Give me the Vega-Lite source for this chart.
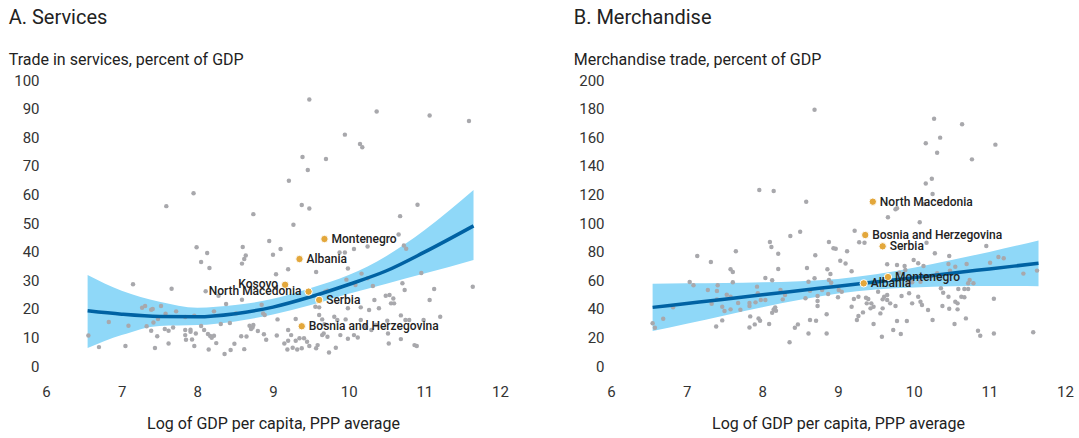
{
  "$schema": "https://vega.github.io/schema/vega-lite/v6.json",
  "background": "white",
  "padding": {"left": 8, "top": 8, "right": 0, "bottom": 3},
  "config": {
    "font": "Roboto",
    "view": {"stroke": null},
    "title": {"anchor": "start", "frame": "bounds", "fontSize": 20, "fontWeight": "normal", "color": "#222222", "subtitleFontSize": 16, "subtitleColor": "#222222", "subtitlePadding": 24, "offset": 5},
    "axis": {"grid": false, "domain": false, "ticks": false, "labelFontSize": 15, "labelColor": "#333333", "titleFontSize": 16, "titleFontWeight": "normal", "titleColor": "#222222", "labelFlush": false, "labelOverlap": false},
    "concat": {"spacing": 64}
  },
  "datasets": {
    "servicesPts": [
      {"x":7.95,"y":60.4},{"x":7.59,"y":55.9},{"x":8.74,"y":53.1},{"x":7.99,"y":41.5},{"x":8.13,"y":39.5},{"x":8.05,"y":36.4},{"x":8.16,"y":34.3},{"x":8.60,"y":41.6},{"x":8.64,"y":38.6},{"x":8.62,"y":37.4},{"x":8.59,"y":35.8},{"x":8.95,"y":43.7},{"x":9.0,"y":38.9},{"x":9.1,"y":40.9},{"x":9.04,"y":32.1},{"x":7.15,"y":28.6},{"x":7.66,"y":27.0},
      {"x":9.48,"y":93.2},{"x":10.37,"y":89.0},{"x":11.07,"y":87.6},{"x":11.59,"y":85.7},{"x":9.95,"y":80.9},{"x":10.15,"y":77.6},{"x":10.18,"y":76.5},{"x":9.39,"y":73.1},{"x":9.70,"y":72.4},{"x":9.46,"y":68.5},{"x":9.21,"y":64.8},{"x":9.38,"y":56.3},{"x":9.48,"y":55.1},{"x":10.91,"y":56.4},{"x":10.68,"y":52.4},{"x":9.27,"y":49.4},{"x":10.66,"y":46.0},{"x":10.73,"y":42.1},{"x":10.76,"y":41.0},{"x":9.88,"y":39.7},{"x":9.95,"y":39.7},{"x":10.07,"y":40.9},{"x":10.25,"y":41.8},{"x":9.57,"y":32.9},{"x":9.99,"y":34.1},{"x":9.20,"y":33.8},{"x":10.96,"y":32.5},{"x":10.17,"y":32.3},{"x":10.25,"y":30.7},{"x":9.97,"y":30.2},{"x":10.71,"y":28.9},{"x":10.09,"y":28.3},{"x":11.64,"y":27.7},{"x":10.32,"y":28.0},
      {"x":6.56,"y":10.7},{"x":6.70,"y":6.6},{"x":6.83,"y":15.4},{"x":7.05,"y":7.0},{"x":7.09,"y":14.1},{"x":7.27,"y":20.4},{"x":7.31,"y":21.0},{"x":7.33,"y":13.9},{"x":7.39,"y":19.7},{"x":7.41,"y":19.9},{"x":7.39,"y":12.3},{"x":7.42,"y":15.2},{"x":7.48,"y":16.4},{"x":7.52,"y":21.0},{"x":7.44,"y":6.3},{"x":7.47,"y":10.4},{"x":7.58,"y":18.3},{"x":7.57,"y":12.9},{"x":7.62,"y":12.3},{"x":7.62,"y":7.9},{"x":7.68,"y":13.5},{"x":7.72,"y":19.1},{"x":7.84,"y":17.1},{"x":7.84,"y":12.6},{"x":7.84,"y":10.8},{"x":7.85,"y":9.2},{"x":7.91,"y":12.7},{"x":7.91,"y":12.0},{"x":7.93,"y":9.3},{"x":7.96,"y":17.6},{"x":7.98,"y":11.4},{"x":7.96,"y":7.0},{"x":8.05,"y":14.0},{"x":8.09,"y":12.6},{"x":8.11,"y":26.1},{"x":8.14,"y":11.2},{"x":8.17,"y":10.5},{"x":8.19,"y":9.9},{"x":8.22,"y":10.6},{"x":8.15,"y":5.8},{"x":8.22,"y":19.1},{"x":8.25,"y":8.0},{"x":8.28,"y":24.6},{"x":8.31,"y":14.7},{"x":8.36,"y":4.2},{"x":8.38,"y":21.7},{"x":8.43,"y":15.0},{"x":8.44,"y":5.6},{"x":8.49,"y":7.8},{"x":8.51,"y":18.4},{"x":8.58,"y":10.4},{"x":8.59,"y":23.2},{"x":8.62,"y":5.9},{"x":8.65,"y":10.3},{"x":8.69,"y":14.1},{"x":8.71,"y":12.9},{"x":8.73,"y":13.5},{"x":8.74,"y":14.3},{"x":8.80,"y":12.2},{"x":8.85,"y":21.4},{"x":8.87,"y":18.4},{"x":8.89,"y":17.8},{"x":8.88,"y":11.1},{"x":8.91,"y":9.2},{"x":9.06,"y":16.3},{"x":9.05,"y":10.7},
      {"x":9.69,"y":26.0},{"x":9.72,"y":26.3},{"x":9.56,"y":20.7},{"x":9.61,"y":20.5},{"x":9.30,"y":16.4},{"x":9.61,"y":17.8},{"x":9.65,"y":16.3},{"x":9.68,"y":14.6},{"x":9.67,"y":11.4},{"x":9.81,"y":17.2},{"x":9.85,"y":16.1},{"x":9.96,"y":16.3},{"x":9.99,"y":20.2},{"x":10.16,"y":20.5},{"x":10.27,"y":19.6},{"x":10.34,"y":23.1},{"x":10.40,"y":20.2},{"x":9.20,"y":12.6},{"x":9.24,"y":10.8},{"x":9.35,"y":9.7},{"x":9.30,"y":8.8},{"x":9.20,"y":8.8},{"x":9.15,"y":7.9},{"x":9.19,"y":5.8},{"x":9.26,"y":6.4},{"x":9.32,"y":5.8},{"x":9.38,"y":6.2},{"x":9.41,"y":9.7},{"x":9.45,"y":8.5},{"x":9.48,"y":7.0},{"x":9.57,"y":6.2},{"x":9.59,"y":7.3},{"x":9.65,"y":10.8},{"x":9.72,"y":10.2},{"x":9.74,"y":4.7},{"x":9.83,"y":6.4},{"x":9.89,"y":10.8},{"x":9.99,"y":9.5},{"x":10.07,"y":10.8},{"x":10.12,"y":10.0},{"x":10.16,"y":16.1},{"x":10.23,"y":13.7},{"x":10.36,"y":14.3},{"x":10.30,"y":12.6},
      {"x":10.49,"y":24.6},{"x":10.54,"y":24.8},{"x":10.59,"y":23.6},{"x":10.56,"y":21.9},{"x":10.60,"y":21.9},{"x":10.74,"y":26.6},{"x":11.07,"y":23.1},{"x":11.13,"y":26.9},{"x":11.21,"y":17.2},{"x":10.69,"y":17.7},{"x":10.75,"y":16.1},{"x":10.80,"y":16.1},{"x":10.99,"y":16.1},{"x":10.53,"y":7.9},{"x":10.69,"y":9.4},{"x":10.87,"y":7.3},{"x":10.90,"y":7.0},{"x":10.51,"y":15.8},{"x":10.52,"y":11.4}
    ],
    "servicesCountries": [
      {"country":"Montenegro","x":9.68,"y":44.4},
      {"country":"Albania","x":9.35,"y":37.4},
      {"country":"Kosovo","x":9.16,"y":28.4},
      {"country":"North Macedonia","x":9.47,"y":26.0},
      {"country":"Serbia","x":9.61,"y":23.1},
      {"country":"Bosnia and Herzegovina","x":9.38,"y":13.9}
    ],
    "servicesFit": [
      {"x":6.55,"fit":19.3,"lo":6.3,"hi":31.8},
      {"x":7.0,"fit":18.1,"lo":10.8,"hi":26.3},
      {"x":7.5,"fit":17.3,"lo":14.0,"hi":22.5},
      {"x":8.0,"fit":17.2,"lo":14.3,"hi":20.4},
      {"x":8.5,"fit":18.3,"lo":15.6,"hi":21.3},
      {"x":9.0,"fit":20.6,"lo":18.0,"hi":23.5},
      {"x":9.5,"fit":24.2,"lo":21.3,"hi":27.3},
      {"x":10.0,"fit":28.5,"lo":25.3,"hi":31.8},
      {"x":10.5,"fit":33.3,"lo":28.8,"hi":38.5},
      {"x":11.0,"fit":39.8,"lo":32.3,"hi":47.5},
      {"x":11.65,"fit":49.0,"lo":37.1,"hi":61.5}
    ],
    "merchPts": [
      {"x":8.69,"y":179.2},{"x":7.96,"y":123.1},{"x":8.15,"y":122.4},{"x":8.58,"y":114.9},{"x":8.37,"y":90.9},{"x":8.50,"y":93.9},{"x":8.10,"y":86.7},{"x":8.12,"y":83.2},{"x":8.21,"y":78.5},{"x":8.70,"y":77.4},{"x":8.88,"y":86.7},{"x":7.14,"y":76.9},{"x":7.32,"y":72.7},{"x":7.65,"y":80.2},{"x":7.58,"y":67.6},{"x":7.61,"y":65.7},{"x":8.21,"y":67.8},{"x":8.59,"y":68.5},{"x":8.86,"y":67.6},{"x":7.04,"y":58.7},{"x":7.09,"y":56.4},{"x":7.41,"y":56.4},{"x":7.61,"y":58.5},{"x":7.93,"y":55.5},{"x":8.04,"y":61.5},{"x":8.13,"y":59.9},{"x":8.61,"y":58.9},{"x":8.69,"y":61.3},
      {"x":6.55,"y":29.9},{"x":6.58,"y":26.8},{"x":6.69,"y":33.1},{"x":6.82,"y":41.0},{"x":7.28,"y":53.1},{"x":7.33,"y":43.6},{"x":7.40,"y":52.4},{"x":7.40,"y":46.6},{"x":7.47,"y":41.5},{"x":7.50,"y":38.5},{"x":7.47,"y":31.9},{"x":7.39,"y":27.7},{"x":7.53,"y":49.9},{"x":7.58,"y":48.5},{"x":7.58,"y":39.6},{"x":7.68,"y":44.1},{"x":7.71,"y":39.4},{"x":7.83,"y":44.1},{"x":7.83,"y":42.0},{"x":7.84,"y":34.7},{"x":7.83,"y":27.0},{"x":7.90,"y":29.1},{"x":7.94,"y":50.8},{"x":7.91,"y":44.5},{"x":7.95,"y":33.3},{"x":7.97,"y":31.7},{"x":7.98,"y":46.2},{"x":8.04,"y":46.2},{"x":8.09,"y":29.4},{"x":8.13,"y":37.3},{"x":8.15,"y":39.6},{"x":8.17,"y":41.0},{"x":8.18,"y":38.7},{"x":8.24,"y":53.1},{"x":8.27,"y":46.6},{"x":8.30,"y":49.7},{"x":8.36,"y":16.6},{"x":8.43,"y":26.8},{"x":8.47,"y":29.1},{"x":8.57,"y":47.3},{"x":8.61,"y":22.8},{"x":8.63,"y":32.2},{"x":8.63,"y":52.7},{"x":8.71,"y":31.7},{"x":8.73,"y":49.0},{"x":8.73,"y":45.5},{"x":8.73,"y":42.0},{"x":8.79,"y":53.1},{"x":8.85,"y":22.8},{"x":8.85,"y":36.2},{"x":8.87,"y":50.3},
      {"x":9.66,"y":104.0},{"x":9.76,"y":109.6},{"x":9.78,"y":110.3},{"x":10.08,"y":100.5},{"x":9.22,"y":94.6},{"x":9.28,"y":86.5},{"x":9.35,"y":86.2},{"x":8.94,"y":82.3},{"x":8.97,"y":82.0},{"x":9.12,"y":80.2},{"x":9.03,"y":73.6},{"x":9.10,"y":71.7},{"x":9.18,"y":66.2},{"x":8.90,"y":64.3},{"x":9.65,"y":71.1},{"x":9.78,"y":70.6},{"x":9.88,"y":69.9},{"x":10.0,"y":74.1},{"x":10.06,"y":71.8},{"x":10.13,"y":69.9},{"x":10.17,"y":86.2},{"x":10.28,"y":78.8},{"x":9.81,"y":65.2},{"x":9.89,"y":67.1},{"x":9.93,"y":57.8},{"x":9.98,"y":58.5},{"x":10.09,"y":58.9},{"x":10.14,"y":62.9},{"x":10.24,"y":62.9},{"x":10.31,"y":64.8},{"x":8.88,"y":60.1},{"x":8.91,"y":58.2},{"x":9.01,"y":53.1},{"x":9.0,"y":48.0},{"x":9.05,"y":52.0},{"x":9.21,"y":46.9},{"x":9.18,"y":41.5},{"x":9.27,"y":48.5},{"x":9.27,"y":35.0},{"x":9.25,"y":32.2},{"x":9.33,"y":37.5},{"x":9.37,"y":47.8},{"x":9.40,"y":46.9},{"x":9.38,"y":43.8},{"x":9.44,"y":43.8},{"x":9.47,"y":41.5},{"x":9.43,"y":40.3},{"x":9.53,"y":52.0},{"x":9.59,"y":46.6},{"x":9.61,"y":48.5},{"x":9.65,"y":49.7},{"x":9.65,"y":46.2},{"x":9.69,"y":43.8},{"x":9.59,"y":40.3},{"x":9.56,"y":36.8},{"x":9.47,"y":29.4},{"x":9.76,"y":42.0},{"x":9.84,"y":49.0},{"x":9.94,"y":50.8},{"x":9.98,"y":43.8},{"x":10.06,"y":48.5},{"x":10.09,"y":45.0},{"x":10.11,"y":42.7},{"x":10.19,"y":39.2},{"x":9.78,"y":31.5},{"x":9.91,"y":31.5},{"x":10.25,"y":32.2},{"x":9.73,"y":25.2},{"x":9.83,"y":22.4},{"x":9.58,"y":20.5},
      {"x":10.27,"y":172.9},{"x":10.64,"y":169.0},{"x":10.16,"y":155.7},{"x":10.35,"y":159.7},{"x":10.31,"y":149.2},{"x":11.08,"y":154.8},{"x":10.77,"y":144.5},{"x":10.16,"y":127.7},{"x":10.24,"y":131.0},{"x":10.25,"y":120.3},{"x":10.14,"y":113.3},{"x":10.96,"y":83.9},{"x":10.47,"y":76.9},{"x":11.12,"y":76.2},{"x":11.19,"y":75.3},{"x":11.01,"y":72.2},{"x":10.70,"y":71.3},{"x":10.46,"y":71.3},{"x":10.55,"y":69.4},{"x":10.48,"y":66.7},{"x":11.45,"y":64.6},{"x":11.63,"y":66.7},{"x":10.74,"y":60.1},{"x":10.72,"y":57.8},{"x":10.79,"y":57.8},{"x":10.36,"y":54.3},{"x":10.39,"y":51.3},{"x":10.46,"y":48.5},{"x":10.59,"y":53.8},{"x":10.67,"y":53.8},{"x":10.72,"y":53.8},{"x":10.63,"y":48.5},{"x":10.67,"y":48.0},{"x":10.55,"y":45.0},{"x":10.58,"y":43.8},{"x":10.38,"y":42.0},{"x":10.47,"y":40.1},{"x":10.58,"y":39.6},{"x":10.69,"y":33.3},{"x":11.06,"y":47.1},{"x":10.54,"y":29.4},{"x":10.85,"y":24.7},{"x":10.88,"y":21.2},{"x":11.06,"y":22.8},{"x":11.58,"y":23.6}
    ],
    "merchCountries": [
      {"country":"North Macedonia","x":9.46,"y":114.9},
      {"country":"Bosnia and Herzegovina","x":9.36,"y":91.6},
      {"country":"Serbia","x":9.59,"y":83.7},
      {"country":"Montenegro","x":9.66,"y":62.2},
      {"country":"Albania","x":9.34,"y":57.8}
    ],
    "merchFit": [
      {"x":6.55,"fit":41.0,"lo":24.4,"hi":57.6},
      {"x":7.0,"fit":43.7,"lo":29.6,"hi":57.8},
      {"x":7.5,"fit":46.7,"lo":35.4,"hi":58.0},
      {"x":8.0,"fit":49.8,"lo":41.1,"hi":58.5},
      {"x":8.5,"fit":52.8,"lo":46.3,"hi":59.3},
      {"x":9.0,"fit":55.8,"lo":50.7,"hi":60.9},
      {"x":9.5,"fit":58.8,"lo":53.5,"hi":64.1},
      {"x":10.0,"fit":61.8,"lo":54.9,"hi":68.7},
      {"x":10.5,"fit":64.9,"lo":55.7,"hi":74.1},
      {"x":11.0,"fit":67.9,"lo":56.0,"hi":79.8},
      {"x":11.65,"fit":71.8,"lo":55.8,"hi":87.8}
    ]
  },
  "hconcat": [
    {
      "width": 454,
      "height": 286,
      "title": {"text": "A. Services", "subtitle": "Trade in services, percent of GDP", "dx": -5},
      "encoding": {
        "x": {"field": "x", "type": "quantitative", "scale": {"domain": [6, 12], "nice": false}, "axis": {"values": [6,7,8,9,10,11,12], "format": "d", "title": "Log of GDP per capita, PPP average", "labelPadding": 18, "titlePadding": 16, "labelOverlap": false}},
        "y": {"field": "y", "type": "quantitative", "scale": {"domain": [0, 100], "nice": false}, "axis": {"values": [0,10,20,30,40,50,60,70,80,90,100], "tickCount": 11, "format": "d", "title": null, "labelPadding": 7, "labelOverlap": false, "labelSeparation": 0}}
      },
      "layer": [
        {
          "data": {"name": "servicesFit"},
          "mark": {"type": "area", "color": "#8fd8f8", "opacity": 1, "interpolate": "monotone"},
          "encoding": {"y": {"field": "lo", "type": "quantitative"}, "y2": {"field": "hi"}}
        },
        {
          "data": {"name": "servicesPts"},
          "mark": {"type": "circle", "size": 20, "color": "#a8a8ac", "opacity": 1}
        },
        {
          "data": {"name": "servicesFit"},
          "mark": {"type": "line", "color": "#0062a3", "strokeWidth": 3.5, "interpolate": "monotone"},
          "encoding": {"y": {"field": "fit", "type": "quantitative"}}
        },
        {
          "data": {"name": "servicesCountries"},
          "mark": {"type": "circle", "size": 55, "color": "#e3a73b", "opacity": 1, "stroke": "white", "strokeWidth": 1}
        },
        {
          "data": {"name": "servicesCountries"},
          "transform": [{"filter": {"not": {"field": "country", "oneOf": ["Kosovo", "North Macedonia"]}}}],
          "mark": {"type": "text", "align": "left", "baseline": "middle", "dx": 7, "font": "Roboto", "fontSize": 12, "fontWeight": 500, "color": "#222222"},
          "encoding": {"text": {"field": "country"}}
        },
        {
          "data": {"name": "servicesCountries"},
          "transform": [{"filter": {"field": "country", "oneOf": ["Kosovo", "North Macedonia"]}}],
          "mark": {"type": "text", "align": "right", "baseline": "middle", "dx": -7, "dy": -1, "font": "Roboto", "fontSize": 12, "fontWeight": 500, "color": "#222222"},
          "encoding": {"text": {"field": "country"}}
        }
      ]
    },
    {
      "width": 454,
      "height": 286,
      "title": {"text": "B. Merchandise", "subtitle": "Merchandise trade, percent of GDP", "dx": -5},
      "encoding": {
        "x": {"field": "x", "type": "quantitative", "scale": {"domain": [6, 12], "nice": false}, "axis": {"values": [6,7,8,9,10,11,12], "format": "d", "title": "Log of GDP per capita, PPP average", "labelPadding": 18, "titlePadding": 16, "labelOverlap": false}},
        "y": {"field": "y", "type": "quantitative", "scale": {"domain": [0, 200], "nice": false}, "axis": {"values": [0,20,40,60,80,100,120,140,160,180,200], "tickCount": 11, "format": "d", "title": null, "labelPadding": 7, "labelOverlap": false, "labelSeparation": 0}}
      },
      "layer": [
        {
          "data": {"name": "merchFit"},
          "mark": {"type": "area", "color": "#8fd8f8", "opacity": 1, "interpolate": "monotone"},
          "encoding": {"y": {"field": "lo", "type": "quantitative"}, "y2": {"field": "hi"}}
        },
        {
          "data": {"name": "merchPts"},
          "mark": {"type": "circle", "size": 20, "color": "#a8a8ac", "opacity": 1}
        },
        {
          "data": {"name": "merchFit"},
          "mark": {"type": "line", "color": "#0062a3", "strokeWidth": 3.5, "interpolate": "monotone"},
          "encoding": {"y": {"field": "fit", "type": "quantitative"}}
        },
        {
          "data": {"name": "merchCountries"},
          "mark": {"type": "circle", "size": 55, "color": "#e3a73b", "opacity": 1, "stroke": "white", "strokeWidth": 1}
        },
        {
          "data": {"name": "merchCountries"},
          "mark": {"type": "text", "align": "left", "baseline": "middle", "dx": 7, "font": "Roboto", "fontSize": 12, "fontWeight": 500, "color": "#222222"},
          "encoding": {"text": {"field": "country"}}
        }
      ]
    }
  ]
}
